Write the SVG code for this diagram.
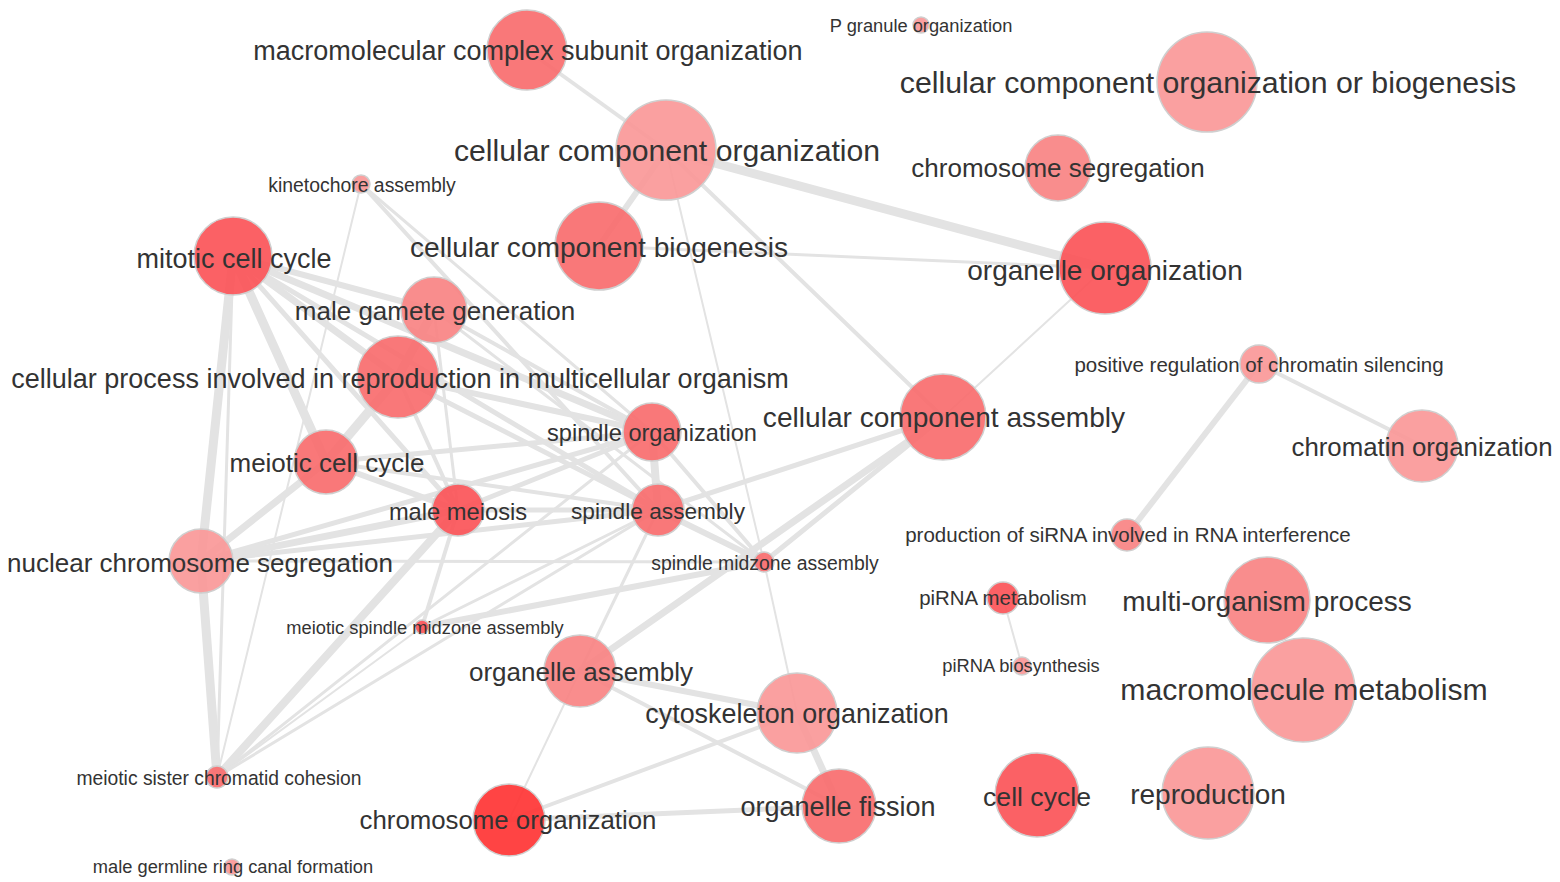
<svg xmlns="http://www.w3.org/2000/svg" width="1560" height="882" viewBox="0 0 1560 882">
<style>
.bg{fill:#ffffff}
.e{stroke:#e3e3e3;stroke-linecap:round;fill:none}
.w2{stroke-width:2}.w3{stroke-width:3}.w4{stroke-width:4}.w5{stroke-width:5}.w6{stroke-width:6}.w7{stroke-width:7}.w8{stroke-width:8}.w9{stroke-width:9}
circle{stroke:#cfcfcf;stroke-width:1.5;fill-opacity:0.92}
.c1{fill:#ff3434}.c2{fill:#fb5458}.c3{fill:#f96d6e}.c4{fill:#f98383}.c5{fill:#fa9898}
text{font-family:"Liberation Sans",Arial,sans-serif;fill:#333333;text-anchor:middle}
</style>
<rect class="bg" x="0" y="0" width="1560" height="882"/>
<g id="connectors">
<line class="e w4" x1="527" y1="50" x2="666" y2="150"/>
<line class="e w6" x1="666" y1="150" x2="599" y2="246"/>
<line class="e w9" x1="666" y1="150" x2="1105" y2="268"/>
<line class="e w4" x1="666" y1="150" x2="943" y2="417"/>
<line class="e w2" x1="666" y1="150" x2="764" y2="562"/>
<line class="e w2" x1="764" y1="562" x2="797" y2="713"/>
<line class="e w3" x1="599" y1="246" x2="1105" y2="268"/>
<line class="e w2" x1="1105" y1="268" x2="943" y2="417"/>
<line class="e w4" x1="1259" y1="364" x2="1422" y2="446"/>
<line class="e w6" x1="1259" y1="364" x2="1127" y2="535"/>
<line class="e w2" x1="1003" y1="598" x2="1022" y2="666"/>
<line class="e w6" x1="580" y1="671" x2="797" y2="713"/>
<line class="e w4" x1="580" y1="671" x2="839" y2="806"/>
<line class="e w2" x1="580" y1="671" x2="509" y2="820"/>
<line class="e w4" x1="509" y1="820" x2="797" y2="713"/>
<line class="e w5" x1="509" y1="820" x2="839" y2="806"/>
<line class="e w7" x1="797" y1="713" x2="839" y2="806"/>
<line class="e w7" x1="580" y1="671" x2="943" y2="417"/>
<line class="e w3" x1="580" y1="671" x2="658" y2="510"/>
<line class="e w5" x1="658" y1="510" x2="943" y2="417"/>
<line class="e w8" x1="652" y1="432" x2="658" y2="510"/>
<line class="e w4" x1="652" y1="432" x2="764" y2="562"/>
<line class="e w6" x1="658" y1="510" x2="764" y2="562"/>
<line class="e w5" x1="764" y1="562" x2="943" y2="417"/>
<line class="e w6" x1="422" y1="627" x2="764" y2="562"/>
<line class="e w3" x1="422" y1="627" x2="658" y2="510"/>
<line class="e w4" x1="422" y1="627" x2="458" y2="510"/>
<line class="e w3" x1="201" y1="561" x2="764" y2="562"/>
<line class="e w9" x1="233" y1="256" x2="201" y2="561"/>
<line class="e w9" x1="201" y1="561" x2="217" y2="777"/>
<line class="e w3" x1="233" y1="256" x2="217" y2="777"/>
<line class="e w2" x1="361" y1="184" x2="217" y2="777"/>
<line class="e w3" x1="361" y1="184" x2="652" y2="432"/>
<line class="e w4" x1="361" y1="184" x2="658" y2="510"/>
<line class="e w9" x1="233" y1="256" x2="326" y2="462"/>
<line class="e w7" x1="233" y1="256" x2="398" y2="377"/>
<line class="e w6" x1="233" y1="256" x2="434" y2="310"/>
<line class="e w5" x1="233" y1="256" x2="458" y2="510"/>
<line class="e w7" x1="233" y1="256" x2="652" y2="432"/>
<line class="e w5" x1="233" y1="256" x2="658" y2="510"/>
<line class="e w9" x1="434" y1="310" x2="398" y2="377"/>
<line class="e w3" x1="434" y1="310" x2="458" y2="510"/>
<line class="e w4" x1="434" y1="310" x2="652" y2="432"/>
<line class="e w3" x1="434" y1="310" x2="764" y2="562"/>
<line class="e w9" x1="398" y1="377" x2="326" y2="462"/>
<line class="e w4" x1="398" y1="377" x2="458" y2="510"/>
<line class="e w5" x1="398" y1="377" x2="658" y2="510"/>
<line class="e w6" x1="398" y1="377" x2="652" y2="432"/>
<line class="e w7" x1="326" y1="462" x2="201" y2="561"/>
<line class="e w6" x1="326" y1="462" x2="458" y2="510"/>
<line class="e w5" x1="326" y1="462" x2="652" y2="432"/>
<line class="e w4" x1="326" y1="462" x2="658" y2="510"/>
<line class="e w7" x1="201" y1="561" x2="458" y2="510"/>
<line class="e w5" x1="201" y1="561" x2="652" y2="432"/>
<line class="e w5" x1="201" y1="561" x2="658" y2="510"/>
<line class="e w8" x1="458" y1="510" x2="217" y2="777"/>
<line class="e w5" x1="458" y1="510" x2="652" y2="432"/>
<line class="e w5" x1="458" y1="510" x2="658" y2="510"/>
<line class="e w3" x1="217" y1="777" x2="652" y2="432"/>
<line class="e w3" x1="217" y1="777" x2="658" y2="510"/>
<line class="e w2" x1="217" y1="777" x2="422" y2="627"/>
</g>
<g id="n-macromolecular-complex-subunit-organization"><circle class="c3" cx="527" cy="50" r="40"/><text x="528" y="60" font-size="27">macromolecular complex subunit organization</text></g>
<g id="n-p-granule-organization"><circle class="c5" cx="921" cy="25" r="8"/><text x="921" y="32" font-size="18.3">P granule organization</text></g>
<g id="n-cellular-component-organization-or-biogenesis"><circle class="c5" cx="1207" cy="82" r="50"/><text x="1208" y="93" font-size="30.3">cellular component organization or biogenesis</text></g>
<g id="n-cellular-component-organization"><circle class="c5" cx="666" cy="150" r="50"/><text x="667" y="161" font-size="30.2">cellular component organization</text></g>
<g id="n-chromosome-segregation"><circle class="c4" cx="1058" cy="168" r="33"/><text x="1058" y="177" font-size="26">chromosome segregation</text></g>
<g id="n-kinetochore-assembly"><circle class="c5" cx="361" cy="184" r="9"/><text x="362" y="192" font-size="19.4">kinetochore assembly</text></g>
<g id="n-mitotic-cell-cycle"><circle class="c2" cx="233" cy="256" r="39"/><text x="234" y="268" font-size="27">mitotic cell cycle</text></g>
<g id="n-cellular-component-biogenesis"><circle class="c3" cx="599" cy="246" r="44"/><text x="599" y="257" font-size="28.1">cellular component biogenesis</text></g>
<g id="n-organelle-organization"><circle class="c2" cx="1105" cy="268" r="46"/><text x="1105" y="280" font-size="28">organelle organization</text></g>
<g id="n-male-gamete-generation"><circle class="c4" cx="434" cy="310" r="33"/><text x="435" y="320" font-size="26">male gamete generation</text></g>
<g id="n-cellular-process-reproduction"><circle class="c3" cx="398" cy="377" r="41"/><text x="400" y="388" font-size="27">cellular process involved in reproduction in multicellular organism</text></g>
<g id="n-positive-regulation-of-chromatin-silencing"><circle class="c5" cx="1259" cy="364" r="19"/><text x="1259" y="372" font-size="20.5">positive regulation of chromatin silencing</text></g>
<g id="n-spindle-organization"><circle class="c3" cx="652" cy="432" r="29"/><text x="652" y="441" font-size="23.6">spindle organization</text></g>
<g id="n-cellular-component-assembly"><circle class="c3" cx="943" cy="417" r="43"/><text x="944" y="427" font-size="28.1">cellular component assembly</text></g>
<g id="n-chromatin-organization"><circle class="c5" cx="1422" cy="446" r="36"/><text x="1422" y="456" font-size="25.8">chromatin organization</text></g>
<g id="n-meiotic-cell-cycle"><circle class="c3" cx="326" cy="462" r="32"/><text x="327" y="472" font-size="26">meiotic cell cycle</text></g>
<g id="n-male-meiosis"><circle class="c2" cx="458" cy="510" r="26"/><text x="458" y="520" font-size="23.7">male meiosis</text></g>
<g id="n-spindle-assembly"><circle class="c3" cx="658" cy="510" r="26"/><text x="658" y="519" font-size="22.7">spindle assembly</text></g>
<g id="n-production-of-sirna"><circle class="c4" cx="1127" cy="535" r="16"/><text x="1128" y="542" font-size="20.5">production of siRNA involved in RNA interference</text></g>
<g id="n-nuclear-chromosome-segregation"><circle class="c5" cx="201" cy="561" r="32"/><text x="200" y="572" font-size="26">nuclear chromosome segregation</text></g>
<g id="n-spindle-midzone-assembly"><circle class="c3" cx="764" cy="562" r="10"/><text x="765" y="570" font-size="19.4">spindle midzone assembly</text></g>
<g id="n-pirna-metabolism"><circle class="c2" cx="1003" cy="598" r="16"/><text x="1003" y="605" font-size="20.4">piRNA metabolism</text></g>
<g id="n-multi-organism-process"><circle class="c4" cx="1267" cy="600" r="43"/><text x="1267" y="611" font-size="28">multi-organism process</text></g>
<g id="n-meiotic-spindle-midzone-assembly"><circle class="c2" cx="422" cy="627" r="7"/><text x="425" y="634" font-size="18.3">meiotic spindle midzone assembly</text></g>
<g id="n-pirna-biosynthesis"><circle class="c5" cx="1022" cy="666" r="9"/><text x="1021" y="672" font-size="18.3">piRNA biosynthesis</text></g>
<g id="n-organelle-assembly"><circle class="c4" cx="580" cy="671" r="36"/><text x="581" y="681" font-size="26">organelle assembly</text></g>
<g id="n-macromolecule-metabolism"><circle class="c5" cx="1303" cy="690" r="52"/><text x="1304" y="700" font-size="30.2">macromolecule metabolism</text></g>
<g id="n-cytoskeleton-organization"><circle class="c5" cx="797" cy="713" r="40"/><text x="797" y="723" font-size="26.9">cytoskeleton organization</text></g>
<g id="n-meiotic-sister-chromatid-cohesion"><circle class="c3" cx="217" cy="777" r="11"/><text x="219" y="785" font-size="19.3">meiotic sister chromatid cohesion</text></g>
<g id="n-chromosome-organization"><circle class="c1" cx="509" cy="820" r="36"/><text x="508" y="829" font-size="25.8">chromosome organization</text></g>
<g id="n-organelle-fission"><circle class="c3" cx="839" cy="806" r="37"/><text x="838" y="816" font-size="27">organelle fission</text></g>
<g id="n-cell-cycle"><circle class="c2" cx="1037" cy="795" r="42"/><text x="1037" y="806" font-size="26.6">cell cycle</text></g>
<g id="n-reproduction"><circle class="c5" cx="1208" cy="793" r="46"/><text x="1208" y="804" font-size="28">reproduction</text></g>
<g id="n-male-germline-ring-canal-formation"><circle class="c5" cx="232" cy="867" r="8"/><text x="233" y="873" font-size="18.3">male germline ring canal formation</text></g>
</svg>
